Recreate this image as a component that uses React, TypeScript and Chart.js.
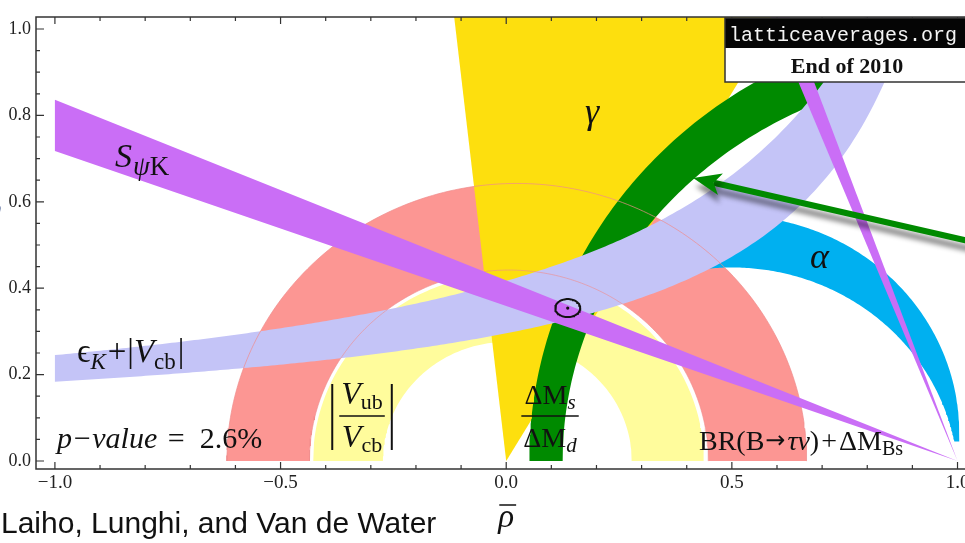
import React, { useEffect, useRef } from "react";
import { Chart, registerables } from "chart.js";

Chart.register(...registerables);

// ---------- axes ----------
const X_TICKS = [-1, -0.5, 0, 0.5, 1];
const X_MINOR_TICKS = [-1, -0.9, -0.8, -0.7, -0.6, -0.5, -0.4, -0.3, -0.2, -0.1, 0, 0.1, 0.2, 0.3, 0.4, 0.5, 0.6, 0.7, 0.8, 0.9, 1];
const Y_TICKS = [0, 0.2, 0.4, 0.6, 0.8, 1];
const Y_MINOR_TICKS = [0, 0.05, 0.1, 0.15, 0.2, 0.25, 0.3, 0.35, 0.4, 0.45, 0.5, 0.55, 0.6, 0.65, 0.7, 0.75, 0.8, 0.85, 0.9, 0.95, 1];
const X_RANGE = [-1.0419, 1.0609];
const Y_RANGE = [-0.01852, 1.02778];

// ---------- constraint bands ----------
// annuli around the origin: [centre rho, radius]
const BTAU_INNER = [0.006, 0.442];
const BTAU_OUTER = [0.0235, 0.6425];
const VUB_INNER = [0.0025, 0.2757];
const VUB_OUTER = [0.005, 0.433];
// gamma wedge edges (degrees from the rho axis, apex at origin)
const GAMMA_DEG = [59.6, 96.4];
// Delta Ms / Delta Md band around (1.07, 0): [rx, ry]
const DMS_CENTRE = [1.07, 0];
const DMS_OUTER_R = [1.019, 1.019];
const DMS_INNER_R = [0.945, 0.905];
// epsilon_K hyperbolae: eta = A / (B - rho) + C
const EPSK_UPPER = [0.52, 1.31, 0.02];
const EPSK_LOWER = [0.2929, 1.1924, 0.05];
// alpha band circles [centre rho, centre eta, radius]; visible from rho=0.40 down to eta=0.045
const ALPHA_OUTER = [0.5, 0.064, 0.504];
const ALPHA_INNER = [0.5, -0.055, 0.503];
const ALPHA_LIMITS = [0.4, 0.045];
// S_psiK bands: corner points (rho, eta)
const SPSIK_MAIN = [[1, 0], [-1, 0.836], [-1, 0.7176]];
const SPSIK_STEEP = [[1, 0], [0.574, 1.06], [0.616, 1.06]];
// fit result
const FIT_POINT = [0.1363, 0.354];
const FIT_RADII = [0.0277, 0.0208];
// arrow
const ARROW_TIP = [0.4142, 0.655];
const ARROW_TAIL = [1.08, 0.496];

// ---------- colours ----------
const PINK = "#FC9693";
const YELLOW = "#FFFC9C";
const BLUE = "#00B0F0";
const GOLD = "#FDDF0E";
const GREEN = "#008A00";
const LAVENDER = "#C4C4F7";
const PURPLE = "#CA6EF6";

const SERIF = "'Liberation Serif', 'DejaVu Serif', 'Times New Roman', serif";
const SANS = "'Liberation Sans', Arial, Helvetica, sans-serif";
const MONO = "'Liberation Mono', 'DejaVu Sans Mono', monospace";
const ARROWFONT = "'DejaVu Sans', sans-serif";

type P = { x: number; y: number };
const DEG = Math.PI / 180;

function arcPts(cx: number, cy: number, rx: number, ry: number, a0: number, a1: number, n = 160): P[] {
  const pts: P[] = [];
  for (let i = 0; i <= n; i++) {
    const a = (a0 + ((a1 - a0) * i) / n) * DEG;
    pts.push({ x: cx + rx * Math.cos(a), y: cy + ry * Math.sin(a) });
  }
  return pts;
}
const toPts = (arr: number[][]): P[] => arr.map(([x, y]) => ({ x, y }));

function annulus(inner: number[], outer: number[]): P[] {
  return [...arcPts(outer[0], 0, outer[1], outer[1], 0, 180), ...arcPts(inner[0], 0, inner[1], inner[1], 180, 0)];
}
function gammaWedge(): P[] {
  const r = 1.5;
  return [
    { x: 0, y: 0 },
    { x: r * Math.cos(GAMMA_DEG[1] * DEG), y: r * Math.sin(GAMMA_DEG[1] * DEG) },
    { x: r * Math.cos(GAMMA_DEG[0] * DEG), y: r * Math.sin(GAMMA_DEG[0] * DEG) },
  ];
}
function dmsBand(): P[] {
  return [
    ...arcPts(DMS_CENTRE[0], DMS_CENTRE[1], DMS_OUTER_R[0], DMS_OUTER_R[1], 180, 70),
    ...arcPts(DMS_CENTRE[0], DMS_CENTRE[1], DMS_INNER_R[0], DMS_INNER_R[1], 70, 180),
  ];
}
const hyper = (h: number[], r: number) => h[0] / (h[1] - r) + h[2];
const hyperEnd = (h: number[], eta: number) => h[1] - h[0] / (eta - h[2]);
function epskBand(): P[] {
  const up: P[] = [];
  const lo: P[] = [];
  const e1 = hyperEnd(EPSK_UPPER, 1.12);
  const e2 = hyperEnd(EPSK_LOWER, 1.12);
  const n = 220;
  for (let i = 0; i <= n; i++) {
    const r1 = -1 + ((e1 + 1) * i) / n;
    up.push({ x: r1, y: hyper(EPSK_UPPER, r1) });
    const r2 = -1 + ((e2 + 1) * i) / n;
    lo.push({ x: r2, y: hyper(EPSK_LOWER, r2) });
  }
  return [...up, ...lo.reverse()];
}
function alphaBand(): P[] {
  const [ox, oy, or] = ALPHA_OUTER;
  const [ix, iy, ir] = ALPHA_INNER;
  const a0 = Math.acos((ALPHA_LIMITS[0] - ox) / or) / DEG;
  const a1 = Math.asin((ALPHA_LIMITS[1] - oy) / or) / DEG;
  const b0 = Math.asin((ALPHA_LIMITS[1] - iy) / ir) / DEG;
  const b1 = Math.acos((ALPHA_LIMITS[0] - ix) / ir) / DEG;
  return [...arcPts(ox, oy, or, or, a0, a1), ...arcPts(ix, iy, ir, ir, b0, b1)];
}

const band = (label: string, data: P[], color: string) => ({
  label,
  data,
  showLine: true,
  fill: "shape",
  backgroundColor: color,
  borderColor: "rgba(0,0,0,0)",
  borderWidth: 0,
  pointRadius: 0,
  tension: 0,
});
const outline = (label: string, data: P[], color: string, width: number) => ({
  label,
  data,
  showLine: true,
  fill: false,
  borderColor: color,
  borderWidth: width,
  pointRadius: 0,
  tension: 0,
});

function buildDatasets() {
  const list: any[] = [
    band("BR(B→τν)+ΔM_Bs", annulus(BTAU_INNER, BTAU_OUTER), PINK),
    band("|Vub/Vcb|", annulus(VUB_INNER, VUB_OUTER), YELLOW),
    band("α", alphaBand(), BLUE),
    band("γ", gammaWedge(), GOLD),
    band("ΔMs/ΔMd", dmsBand(), GREEN),
    band("εK", epskBand(), LAVENDER),
    outline("BR outer edge", arcPts(BTAU_OUTER[0], 0, BTAU_OUTER[1], BTAU_OUTER[1], 0, 180), "rgba(240,140,140,0.7)", 1),
    outline("BR inner edge", arcPts(BTAU_INNER[0], 0, BTAU_INNER[1], BTAU_INNER[1], 0, 180), "rgba(240,140,140,0.6)", 1),
    band("SψK", toPts(SPSIK_MAIN), PURPLE),
    band("SψK'", toPts(SPSIK_STEEP), PURPLE),
    outline("fit", arcPts(FIT_POINT[0], FIT_POINT[1], FIT_RADII[0], FIT_RADII[1], 0, 360, 72), "#111", 2),
    {
      label: "fit point",
      data: [{ x: FIT_POINT[0], y: FIT_POINT[1] }],
      showLine: false,
      pointRadius: 1.6,
      pointBackgroundColor: "#111",
      pointBorderWidth: 0,
    },
  ];
  const n = list.length;
  return list.map((d, i) => ({ ...d, order: n - i }));
}

// ---------- text helpers ----------
type Seg = { t: string; f: string; dy?: number; dx?: number };
function segWidth(ctx: CanvasRenderingContext2D, segs: Seg[]) {
  let w = 0;
  for (const s of segs) {
    ctx.font = s.f;
    w += ctx.measureText(s.t).width + (s.dx || 0);
  }
  return w;
}
function drawRich(ctx: CanvasRenderingContext2D, segs: Seg[], x: number, y: number, align: "left" | "center" = "left") {
  const w = segWidth(ctx, segs);
  let cx = align === "center" ? x - w / 2 : x;
  ctx.textAlign = "left";
  ctx.textBaseline = "alphabetic";
  for (const s of segs) {
    ctx.font = s.f;
    cx += s.dx || 0;
    ctx.fillText(s.t, cx, y + (s.dy || 0));
    cx += ctx.measureText(s.t).width;
  }
  return w;
}
const fnt = (size: number, style = "", fam = SERIF) => `${style} ${size}px ${fam}`.trim();

function fraction(ctx: CanvasRenderingContext2D, cx: number, yl: number, num: Seg[], den: Seg[], bars: boolean) {
  const w1 = drawRich(ctx, num, cx, yl - 12, "center");
  const w2 = drawRich(ctx, den, cx, yl + 31, "center");
  const w = Math.max(w1, w2) + 4;
  ctx.lineWidth = 1.6;
  ctx.strokeStyle = "#111";
  ctx.beginPath();
  ctx.moveTo(cx - w / 2, yl);
  ctx.lineTo(cx + w / 2, yl);
  ctx.stroke();
  if (bars) {
    ctx.lineWidth = 2;
    for (const sx of [-1, 1]) {
      const bx = cx + sx * (w / 2 + 7);
      ctx.beginPath();
      ctx.moveTo(bx, yl - 32);
      ctx.lineTo(bx, yl + 34);
      ctx.stroke();
    }
  }
}

const decor = {
  id: "decor",
  afterDatasetsDraw(chart: any) {
    const { ctx, chartArea: a, scales } = chart;
    const xs = scales.x;
    const ys = scales.y;
    // arrow
    const tip = { x: xs.getPixelForValue(ARROW_TIP[0]), y: ys.getPixelForValue(ARROW_TIP[1]) };
    const tail = { x: xs.getPixelForValue(ARROW_TAIL[0]), y: ys.getPixelForValue(ARROW_TAIL[1]) };
    const L = Math.hypot(tip.x - tail.x, tip.y - tail.y);
    const ux = (tip.x - tail.x) / L;
    const uy = (tip.y - tail.y) / L;
    const nx = -uy;
    const ny = ux;
    const hl = 28;
    const hw = 11;
    const notch = 7;
    ctx.save();
    ctx.shadowColor = "rgba(0,0,0,0.45)";
    ctx.shadowBlur = 5;
    ctx.shadowOffsetX = 2;
    ctx.shadowOffsetY = 8;
    ctx.strokeStyle = GREEN;
    ctx.fillStyle = GREEN;
    ctx.lineWidth = 6;
    ctx.beginPath();
    ctx.moveTo(tail.x, tail.y);
    ctx.lineTo(tip.x - ux * (hl - notch), tip.y - uy * (hl - notch));
    ctx.stroke();
    ctx.beginPath();
    ctx.moveTo(tip.x, tip.y);
    ctx.lineTo(tip.x - ux * hl + nx * hw, tip.y - uy * hl + ny * hw);
    ctx.lineTo(tip.x - ux * (hl - notch), tip.y - uy * (hl - notch));
    ctx.lineTo(tip.x - ux * hl - nx * hw, tip.y - uy * hl - ny * hw);
    ctx.closePath();
    ctx.fill();
    ctx.restore();

    // frame and inward ticks
    ctx.save();
    ctx.strokeStyle = "#333";
    ctx.lineWidth = 1.5;
    ctx.beginPath();
    ctx.moveTo(a.right, a.top);
    ctx.lineTo(a.left, a.top);
    ctx.lineTo(a.left, a.bottom);
    ctx.lineTo(a.right, a.bottom);
    ctx.stroke();
    ctx.lineWidth = 1.2;
    ctx.beginPath();
    for (const v of X_MINOR_TICKS) {
      const px = xs.getPixelForValue(v);
      const major = Math.abs(v * 2 - Math.round(v * 2)) < 1e-9;
      const len = major ? 7 : 4;
      ctx.moveTo(px, a.bottom);
      ctx.lineTo(px, a.bottom - len);
      ctx.moveTo(px, a.top);
      ctx.lineTo(px, a.top + len);
    }
    for (const v of Y_MINOR_TICKS) {
      const py = ys.getPixelForValue(v);
      const major = Math.abs(v * 5 - Math.round(v * 5)) < 1e-9;
      const len = major ? 8 : 4;
      ctx.moveTo(a.left, py);
      ctx.lineTo(a.left + len, py);
    }
    ctx.stroke();
    ctx.restore();
  },
  afterDraw(chart: any) {
    const { ctx, chartArea: a, scales } = chart;
    const xs = scales.x;
    const ys = scales.y;
    const P = (x: number, y: number) => [xs.getPixelForValue(x), ys.getPixelForValue(y)];
    ctx.save();
    ctx.fillStyle = "#111";

    let [px, py] = P(-0.8668, 0.6806);
    drawRich(ctx, [
      { t: "S", f: fnt(34, "italic") },
      { t: "ψ", f: fnt(27, "italic"), dy: 8, dx: 1 },
      { t: "K", f: fnt(27), dy: 8 },
    ], px, py);

    [px, py] = P(0.1746, 0.7824);
    drawRich(ctx, [{ t: "γ", f: fnt(36, "italic") }], px, py);

    [px, py] = P(0.6732, 0.4468);
    drawRich(ctx, [{ t: "α", f: fnt(36, "italic") }], px, py);

    [px, py] = P(-0.951, 0.2292);
    drawRich(ctx, [
      { t: "ϵ", f: fnt(33) },
      { t: "K", f: fnt(23, "italic"), dy: 7 },
      { t: "+", f: fnt(33), dx: 2 },
      { t: "|", f: fnt(33), dx: 1 },
      { t: "V", f: fnt(33, "italic") },
      { t: "cb", f: fnt(23), dy: 7 },
      { t: "|", f: fnt(33), dx: 2 },
    ], px, py);

    [px, py] = P(-0.9953, 0.0301);
    drawRich(ctx, [
      { t: "p−value", f: fnt(30, "italic") },
      { t: " =  2.6%", f: fnt(30), dx: 3 },
    ], px, py);

    [px, py] = P(-0.3195, 0.1042);
    fraction(ctx, px, py,
      [{ t: "V", f: fnt(32, "italic") }, { t: "ub", f: fnt(22), dy: 5 }],
      [{ t: "V", f: fnt(32, "italic") }, { t: "cb", f: fnt(22), dy: 5 }],
      true);

    [px, py] = P(0.0971, 0.1042);
    fraction(ctx, px, py,
      [{ t: "ΔM", f: fnt(28) }, { t: "s", f: fnt(21, "italic"), dy: 5 }],
      [{ t: "ΔM", f: fnt(28) }, { t: "d", f: fnt(21, "italic"), dy: 5 }],
      false);

    [px, py] = P(0.4271, 0.0255);
    drawRich(ctx, [
      { t: "BR(B", f: fnt(28) },
      { t: "→", f: fnt(24, "", ARROWFONT), dy: -2, dx: 1 },
      { t: "τν", f: fnt(28, "italic"), dx: 2 },
      { t: ")", f: fnt(28) },
      { t: "+", f: fnt(28), dx: 2 },
      { t: "ΔM", f: fnt(28), dx: 2 },
      { t: "Bs", f: fnt(20), dy: 5 },
    ], px, py);

    // rho-bar axis title
    const rx = xs.getPixelForValue(0);
    const ry = a.bottom + 58;
    ctx.font = fnt(33, "italic");
    const rw = ctx.measureText("ρ").width;
    ctx.fillText("ρ", rx - rw / 2, ry);
    ctx.lineWidth = 1.5;
    ctx.strokeStyle = "#111";
    ctx.beginPath();
    ctx.moveTo(rx - rw / 2 + 1, ry - 22);
    ctx.lineTo(rx + rw / 2 + 2, ry - 22);
    ctx.stroke();

    // eta-bar title (cut off at the left edge)
    ctx.fillStyle = "#4d6296";
    ctx.font = fnt(30, "italic");
    ctx.fillText("η", -13, ys.getPixelForValue(0.56));

    // credit line
    ctx.fillStyle = "#111";
    ctx.font = fnt(30, "", SANS);
    ctx.fillText("Laiho, Lunghi, and Van de Water", 1, 533);

    // stamp box
    const bx = xs.getPixelForValue(0.4848);
    const bt = a.top + 1;
    ctx.fillStyle = "#050505";
    ctx.fillRect(bx, bt, 400, 30);
    ctx.fillStyle = "#fff";
    ctx.fillRect(bx, bt + 30, 400, 34);
    ctx.strokeStyle = "#333";
    ctx.lineWidth = 1.5;
    ctx.strokeRect(bx, bt, 400, 64);
    ctx.fillStyle = "#f4f4f4";
    ctx.font = fnt(20, "", MONO);
    ctx.fillText("latticeaverages.org", bx + 4, bt + 23);
    ctx.fillStyle = "#111";
    ctx.font = fnt(22, "bold");
    ctx.textAlign = "center";
    ctx.fillText("End of 2010", bx + 122, bt + 55);
    ctx.restore();
  },
};

const fmtTick = (v: number) => (v < 0 ? "−" : "") + Math.abs(v).toFixed(1);

export default function App() {
  const ref = useRef<HTMLCanvasElement>(null);
  useEffect(() => {
    if (!ref.current) return;
    const chart = new Chart(ref.current, {
      type: "scatter",
      data: { datasets: buildDatasets() as any },
      options: {
        responsive: false,
        animation: false,
        events: [],
        layout: { padding: { top: 17, right: 25, left: 0, bottom: 0 } },
        plugins: { legend: { display: false }, tooltip: { enabled: false } },
        scales: {
          x: {
            type: "linear",
            min: X_RANGE[0],
            max: X_RANGE[1],
            afterFit: (s: any) => {
              s.height = 74;
            },
            afterBuildTicks: (s: any) => {
              s.ticks = X_TICKS.map((v) => ({ value: v }));
            },
            grid: { display: false, drawTicks: false },
            border: { display: false },
            ticks: {
              autoSkip: false,
              maxRotation: 0,
              padding: 3,
              color: "#222",
              font: { family: SERIF, size: 19 },
              callback: (v: any) => fmtTick(Number(v)),
            },
          },
          y: {
            type: "linear",
            min: Y_RANGE[0],
            max: Y_RANGE[1],
            afterFit: (s: any) => {
              s.width = 36;
            },
            afterBuildTicks: (s: any) => {
              s.ticks = Y_TICKS.map((v) => ({ value: v }));
            },
            grid: { display: false, drawTicks: false },
            border: { display: false },
            ticks: {
              autoSkip: false,
              padding: 5,
              color: "#222",
              font: { family: SERIF, size: 18 },
              callback: (v: any) => fmtTick(Number(v)),
            },
          },
        },
      },
      plugins: [decor],
    });
    return () => chart.destroy();
  }, []);
  return (
    <div style={{ position: "absolute", left: 0, top: 0, width: 965, height: 543, overflow: "hidden", background: "#fff" }}>
      <canvas ref={ref} width={1010} height={543} style={{ display: "block" }} />
    </div>
  );
}
